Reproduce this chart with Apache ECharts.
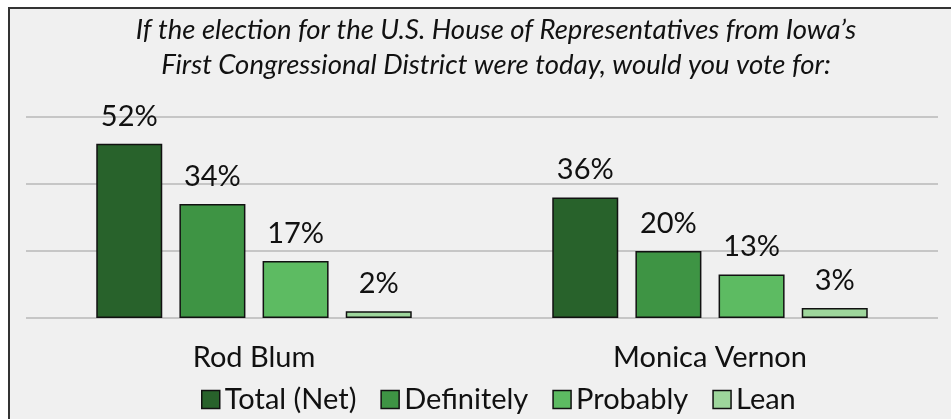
<!DOCTYPE html>
<html>
<head>
<meta charset="utf-8">
<script src="https://cdn.jsdelivr.net/npm/echarts@6/dist/echarts.min.js"></script>
<style>
  html, body { margin: 0; padding: 0; background: #ffffff; }
  #chart { width: 951px; height: 419px; }
</style>
</head>
<body>
<div id="chart"></div>
<script>
const titleLines = [
  "If the election for the U.S. House of Representatives from Iowa\u2019s",
  "First Congressional District were today, would you vote for:"
];
const categories = ["Rod Blum", "Monica Vernon"];
const seriesNames = ["Total (Net)", "Definitely", "Probably", "Lean"];
const totalNet = [52, 36];
const definitely = [34, 20];
const probably = [17, 13];
const lean = [2, 3];
const seriesColors = ["#28622B", "#3E9444", "#5DBB62", "#9ED69C"];
const yTicks = [0, 20, 40, 60];

const FONT = "Lato, 'Noto Sans', sans-serif";
const valuesList = [totalNet, definitely, probably, lean];

const chart = echarts.init(document.getElementById('chart'), null, { renderer: 'canvas' });

const series = seriesNames.map((name, i) => ({
  name: name,
  type: 'bar',
  data: valuesList[i],
  barWidth: 66,
  barGap: '26%',
  itemStyle: { color: seriesColors[i], borderColor: '#111111', borderWidth: 1.5 },
  label: {
    show: true,
    position: 'top',
    distance: 13,
    formatter: '{c}%',
    color: '#111111',
    fontFamily: FONT,
    fontSize: 29
  },
  emphasis: { disabled: true },
  animation: false
}));

chart.setOption({
  animation: false,
  backgroundColor: '#ffffff',
  graphic: [{
    type: 'rect',
    z: -10,
    shape: { x: 9, y: 8, width: 1000, height: 500 },
    style: { fill: '#f0f0f0', stroke: '#333333', lineWidth: 2 }
  }],
  title: {
    text: titleLines.join('\n'),
    left: 496,
    textAlign: 'center',
    top: 13,
    padding: 0,
    textStyle: {
      fontFamily: FONT,
      fontStyle: 'italic',
      fontWeight: 'normal',
      fontSize: 27.5,
      lineHeight: 35,
      color: '#111111'
    }
  },
  legend: {
    data: seriesNames,
    left: 196,
    top: 380,
    itemWidth: 18,
    itemHeight: 18,
    itemGap: 24,
    icon: 'rect',
    itemStyle: { borderColor: '#111111', borderWidth: 1.5 },
    textStyle: { fontFamily: FONT, fontSize: 29, color: '#111111', padding: [0, 0, 0, 0] },
    selectedMode: false
  },
  grid: { left: 26, right: 13, top: 117, bottom: 101, containLabel: false },
  xAxis: {
    type: 'category',
    data: categories,
    axisLine: { show: false },
    axisTick: { show: false },
    axisLabel: { fontFamily: FONT, fontSize: 29, color: '#111111', margin: 25 }
  },
  yAxis: {
    type: 'value',
    min: yTicks[0],
    max: yTicks[yTicks.length - 1],
    interval: yTicks[1] - yTicks[0],
    axisLabel: { show: false },
    axisLine: { show: false },
    axisTick: { show: false },
    splitLine: { lineStyle: { color: '#b9b9b9', width: 1.5 } }
  },
  series: series
});
</script>
</body>
</html>
